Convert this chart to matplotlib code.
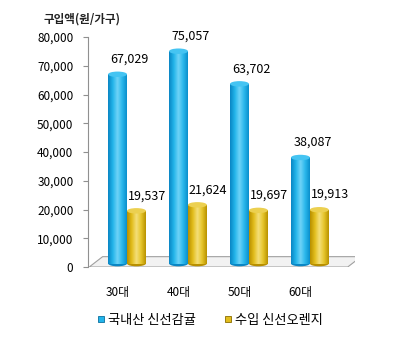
import numpy as np
import matplotlib.pyplot as plt
from matplotlib.patches import Ellipse, Polygon
from matplotlib.colors import LinearSegmentedColormap

plt.rcParams['font.family'] = ['Noto Sans CJK KR', 'DejaVu Sans']

categories = ['30대', '40대', '50대', '60대']
domestic = [67029, 75057, 63702, 38087]
imported = [19537, 21624, 19697, 19913]
series_names = ['국내산 신선감귤', '수입 신선오렌지']
yticks = [0, 10000, 20000, 30000, 40000, 50000, 60000, 70000, 80000]

fig = plt.figure(figsize=(4, 3.62), dpi=100)
ax = fig.add_axes([0.22, 0.2624, 0.6675, 0.6354])

bw = 0.31
cyl_h = 1900  # ellipse height in data units

blue_cmap = LinearSegmentedColormap.from_list(
    'b', ['#0a86c4', '#22b4ea', '#6fd3f7', '#2bb8ec', '#0a8fcc'])
gold_cmap = LinearSegmentedColormap.from_list(
    'y', ['#b88f00', '#e2bd1c', '#f4df7a', '#e6c52a', '#b99200'])
grad = np.linspace(0, 1, 64).reshape(1, -1)

# floor
x0, x1 = -0.62, 3.62
floor = Polygon([(x0, 0), (x1, 0), (x1 + 0.22, 3600), (x0 + 0.22, 3600)],
                closed=True, facecolor='#f2f2f2', edgecolor='#a0a0a0', lw=0.8, zorder=1)
ax.add_patch(floor)
ax.add_patch(Polygon([(x0, 0), (x1, 0), (x1 + 0.02, -500), (x0 + 0.02, -500)],
                     closed=True, facecolor='#c8c8c8', edgecolor='none', zorder=1))


def cylinder(xc, val, cmap, top_col, bot_col):
    left = xc - bw / 2
    base = 1200
    ax.add_patch(Ellipse((xc, base), bw, cyl_h, facecolor=bot_col, edgecolor='none', zorder=2))
    ax.imshow(grad, cmap=cmap, extent=(left, left + bw, base, val), aspect='auto',
              zorder=3, interpolation='bilinear')
    ax.add_patch(Ellipse((xc, val), bw, cyl_h, facecolor=top_col, edgecolor='none', zorder=4))


for i in range(len(categories)):
    xb = i - bw / 2
    xy = i + bw / 2
    cylinder(xb, domestic[i], blue_cmap, '#45c4f2', '#0a86c4')
    cylinder(xy, imported[i], gold_cmap, '#ecd050', '#b88f00')
    ax.text(xb + 0.2, domestic[i] + 3000, f'{domestic[i]:,}', ha='center', va='bottom',
            fontsize=9, color='#000000', zorder=5)
    ax.text(xy + 0.17, imported[i] + 3000, f'{imported[i]:,}', ha='center', va='bottom',
            fontsize=9, color='#000000', zorder=5)

ax.set_xlim(-0.64, 3.74)
ax.set_ylim(0, 80000)
ax.set_yticks(yticks)
ax.set_yticklabels([f'{v:,}' for v in yticks], fontsize=8.5, color='#000000')
ax.set_xticks([i - 0.15 for i in range(len(categories))])
ax.set_xticklabels(categories, fontsize=8.5, color='#000000')
ax.tick_params(axis='x', length=0, pad=14)
ax.tick_params(axis='y', length=3.5, color='#909090', width=0.8, pad=7)
for s in ['top', 'right', 'bottom']:
    ax.spines[s].set_visible(False)
ax.spines['left'].set_color('#909090')
ax.spines['left'].set_linewidth(0.8)
ax.patch.set_alpha(0)

fig.text(0.108, 0.947, '구입액(원/가구)', fontsize=8.3, fontweight='bold', color='#222222',
         va='center', ha='left')

h1 = plt.Line2D([], [], marker='s', ls='none', markersize=4.5, markerfacecolor='#22b4ea',
                markeredgecolor='#0a6f9e', markeredgewidth=0.6)
h2 = plt.Line2D([], [], marker='s', ls='none', markersize=4.5, markerfacecolor='#e2bd1c',
                markeredgecolor='#8a6d00', markeredgewidth=0.6)
fig.legend([h1, h2], series_names, loc='center', bbox_to_anchor=(0.525, 0.116), ncol=2,
           frameon=False, fontsize=9.5, handlelength=0.6, handletextpad=0.2, columnspacing=2.2)

fig.savefig('out.png', dpi=100)
